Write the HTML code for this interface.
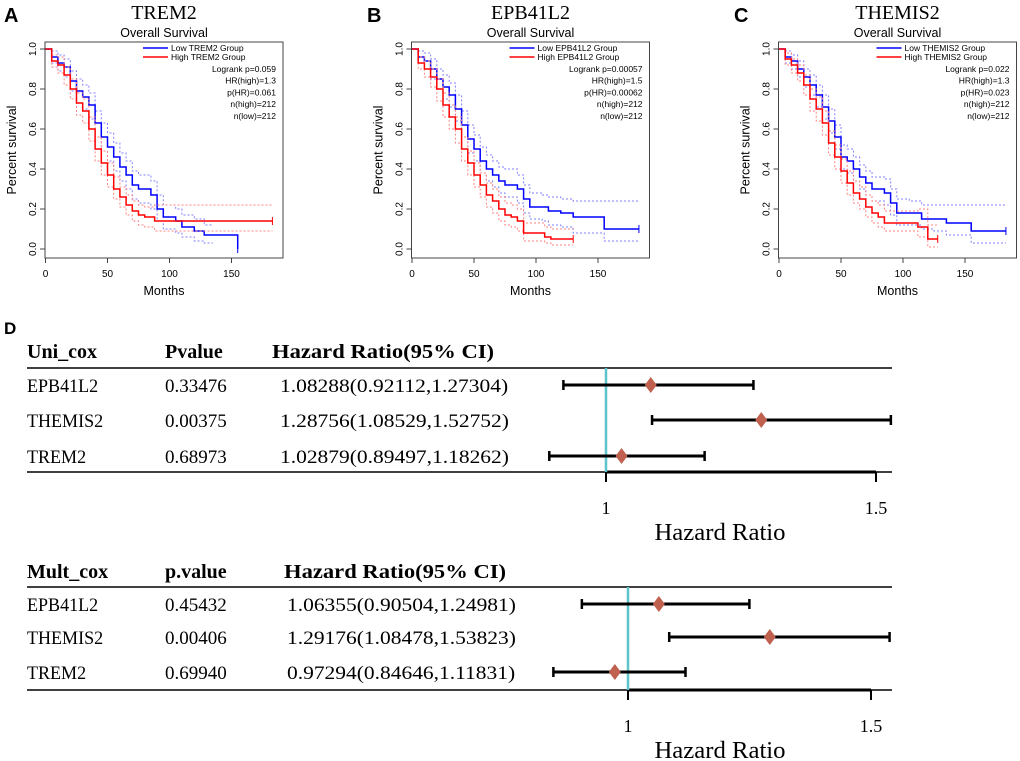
<!DOCTYPE html>
<html><head><meta charset="utf-8">
<style>
html,body{margin:0;padding:0;background:#fff;}
svg{display:block;}
.sans{font-family:"Liberation Sans",Arial,sans-serif;}
.serif{font-family:"Liberation Serif","Times New Roman",serif;}
</style></head>
<body>
<svg id="fig" width="1020" height="761" viewBox="0 0 1020 761" xmlns="http://www.w3.org/2000/svg"></svg>
<script>
// ---------- KM data ----------
const kmGenes = ["TREM2","EPB41L2","THEMIS2"];
const kmLetters = ["A","B","C"];
const kmStats = [
 ["Logrank p=0.059","HR(high)=1.3","p(HR)=0.061","n(high)=212","n(low)=212"],
 ["Logrank p=0.00057","HR(high)=1.5","p(HR)=0.00062","n(high)=212","n(low)=212"],
 ["Logrank p=0.022","HR(high)=1.3","p(HR)=0.023","n(high)=212","n(low)=212"]
];
const xTicks = [0,50,100,150];
const yTicks = [0,0.2,0.4,0.6,0.8,1.0];
const yTickLabels = ["0.0","0.2","0.4","0.6","0.8","1.0"];

const aLowT = [0,5,10,15,20,25,30,35,40,45,50,55,60,65,70,75,85,90,95,105,110,120,128,155];
const aLowS = [1,.96,.93,.91,.84,.79,.76,.72,.63,.56,.51,.46,.41,.37,.32,.30,.27,.20,.16,.14,.11,.09,.07,0];
const aLowLo = [1,.93,.89,.86,.79,.73,.70,.65,.56,.49,.44,.39,.34,.30,.25,.23,.20,.14,.10,.08,.06,.04,.03];
const aLowHi = [1,.99,.97,.95,.89,.85,.82,.78,.69,.63,.58,.53,.48,.44,.39,.37,.34,.27,.22,.20,.17,.15,.12];
const aHighT = [0,5,10,15,20,25,30,35,40,45,50,55,60,65,70,75,80,88];
const aHighS = [1,.94,.92,.87,.80,.73,.69,.60,.50,.43,.37,.30,.26,.22,.19,.17,.16,.14];
const aHighLo = [1,.91,.88,.82,.75,.67,.63,.54,.44,.37,.31,.25,.21,.17,.14,.12,.11,.09];
const aHighHi = [1,.97,.96,.91,.85,.78,.75,.66,.56,.49,.43,.36,.31,.27,.24,.22,.21,.22];

const bLowT = [0,5,10,15,20,25,30,35,40,45,50,55,60,65,70,75,85,90,95,105,110,120,130,155];
const bLowS = [1,.96,.94,.90,.85,.81,.77,.70,.62,.55,.50,.44,.40,.37,.34,.32,.30,.25,.21,.21,.19,.18,.16,.10];
const bLowLo = [1,.93,.90,.85,.80,.75,.71,.64,.56,.48,.44,.38,.34,.31,.28,.26,.23,.18,.15,.14,.12,.11,.08,.04];
const bLowHi = [1,.99,.98,.95,.90,.87,.83,.77,.69,.62,.57,.51,.47,.44,.41,.40,.37,.32,.28,.27,.26,.25,.24,.24];
const bHighT = [0,5,10,15,20,25,30,35,40,45,50,55,60,65,70,75,80,85,90,107,112];
const bHighS = [1,.93,.90,.86,.80,.72,.66,.60,.50,.43,.37,.32,.27,.24,.20,.17,.16,.14,.08,.06,.05];
const bHighLo = [1,.90,.86,.81,.74,.66,.60,.53,.44,.37,.31,.26,.21,.18,.14,.12,.11,.09,.04,.03,.02];
const bHighHi = [1,.96,.94,.90,.85,.78,.72,.66,.56,.49,.43,.38,.33,.30,.26,.23,.22,.20,.13,.11,.10];

const cLowT = [0,5,10,15,20,25,30,35,40,45,50,55,60,65,70,75,85,90,95,105,115,125,135,155];
const cLowS = [1,.96,.94,.90,.86,.82,.77,.71,.64,.56,.46,.44,.40,.36,.33,.30,.28,.23,.18,.18,.15,.15,.13,.09];
const cLowLo = [1,.93,.90,.86,.81,.77,.71,.65,.58,.50,.40,.38,.34,.30,.27,.24,.22,.17,.12,.12,.10,.09,.07,.03];
const cLowHi = [1,.99,.97,.94,.90,.87,.82,.77,.70,.62,.52,.50,.46,.42,.39,.36,.35,.30,.25,.24,.22,.22,.22,.22];
const cHighT = [0,5,10,15,20,25,30,35,40,45,50,55,60,65,70,75,80,85,112,120];
const cHighS = [1,.95,.92,.88,.82,.75,.70,.63,.53,.46,.39,.33,.28,.25,.21,.18,.16,.13,.11,.05];
const cHighLo = [1,.92,.88,.84,.77,.69,.64,.57,.47,.40,.33,.27,.23,.20,.16,.13,.11,.09,.06,.01];
const cHighHi = [1,.98,.95,.92,.87,.80,.76,.69,.59,.52,.45,.39,.34,.31,.27,.24,.22,.19,.20,.12];

const kmPanels = [
 {x0:45.5, low:{t:aLowT,s:aLowS,lo:aLowLo,hi:aLowHi,end:155,ciEnd:135}, high:{t:aHighT,s:aHighS,lo:aHighLo,hi:aHighHi,end:183,ciEnd:183}},
 {x0:412, low:{t:bLowT,s:bLowS,lo:bLowLo,hi:bLowHi,end:183,ciEnd:183}, high:{t:bHighT,s:bHighS,lo:bHighLo,hi:bHighHi,end:130,ciEnd:130}},
 {x0:779, low:{t:cLowT,s:cLowS,lo:cLowLo,hi:cLowHi,end:183,ciEnd:183}, high:{t:cHighT,s:cHighS,lo:cHighLo,hi:cHighHi,end:128,ciEnd:128}}
];

// ---------- Forest data ----------
const uniGenes = ["EPB41L2","THEMIS2","TREM2"];
const uniP = ["0.33476","0.00375","0.68973"];
const uniHR = [1.08288,1.28756,1.02879];
const uniLo = [0.92112,1.08529,0.89497];
const uniHi = [1.27304,1.52752,1.18262];
const multGenes = ["EPB41L2","THEMIS2","TREM2"];
const multP = ["0.45432","0.00406","0.69940"];
const multHR = [1.06355,1.29176,0.97294];
const multLo = [0.90504,1.08478,0.84646];
const multHi = [1.24981,1.53823,1.11831];
const forestTicks = [1,1.5];

const NS = "http://www.w3.org/2000/svg";
const svg = document.getElementById("fig");
function el(tag, attrs, parent, text){
  const e = document.createElementNS(NS, tag);
  for (const k in attrs) e.setAttribute(k, attrs[k]);
  if (text !== undefined) e.textContent = text;
  (parent||svg).appendChild(e);
  return e;
}

kmPanels.forEach((p, i) => {
  const g = el("g", {});
  
  
  const sx = m => p.x0 + m * (186/150);
  const sy = v => 249 - v * 200;
  const bx0 = p.x0 - 0.5, bx1 = p.x0 + 237.5;
  const box = el("rect", {x:bx0, y:42, width:bx1-bx0, height:216, fill:"none", stroke:"#444", "stroke-width":1}, g);
  
  
  const lt = el("text", {x: i==0?4:(p.x0-45), y:22, "font-size":20, "font-weight":"bold", class:"sans"}, g, kmLetters[i]);
  
  
  const cx = (bx0+bx1)/2;
  const gt = el("text", {x:cx, y:19, "font-size":20, "text-anchor":"middle", class:"serif"}, g, kmGenes[i]);
  
  
  const st = el("text", {x:cx, y:37, "font-size":12.5, "text-anchor":"middle", class:"sans"}, g, "Overall Survival");
  
  
  xTicks.forEach(v => {
    el("line", {x1:sx(v), x2:sx(v), y1:258, y2:263, stroke:"#444"}, g);
    const t = el("text", {x:sx(v), y:277, "font-size":10, "text-anchor":"middle", class:"sans"}, g, String(v));
    
    
  });
  const xl = el("text", {x:cx, y:295, "font-size":12.5, "text-anchor":"middle", class:"sans"}, g, "Months");
  
  
  yTicks.forEach((v,k) => {
    el("line", {x1:bx0-5, x2:bx0, y1:sy(v), y2:sy(v), stroke:"#444"}, g);
    const t = el("text", {x:0, y:0, "font-size":10, "text-anchor":"middle", class:"sans", transform:`translate(${bx0-9},${sy(v)}) rotate(-90)`}, g, yTickLabels[k]);
    
    
  });
  const yl = el("text", {x:0, y:0, "font-size":12.5, "text-anchor":"middle", class:"sans", transform:`translate(${bx0-29},150) rotate(-90)`}, g, "Percent survival");
  
  

  function stepPath(t, s, end){
    let d = `M${sx(t[0])},${sy(s[0])}`;
    for (let k=1;k<t.length;k++){ d += ` H${sx(t[k])} V${sy(s[k])}`; }
    d += ` H${sx(end)}`;
    return d;
  }
  [["low","#0000ff","#8080ff"],["high","#ff0000","#ff8080"]].forEach(([key,col,light]) => {
    const c = p[key];
    const ct = c.t.slice(0, c.lo.length);
    const lo = el("path", {d:stepPath(ct, c.lo, c.ciEnd), fill:"none", stroke:light, "stroke-width":1, "stroke-dasharray":"2,2"}, g);
    
    
    const hi = el("path", {d:stepPath(ct, c.hi, c.ciEnd), fill:"none", stroke:light, "stroke-width":1, "stroke-dasharray":"2,2"}, g);
    
    
    const ln = el("path", {d:stepPath(c.t, c.s, c.end), fill:"none", stroke:col, "stroke-width":1.5}, g);
    
    
    const lastS = c.s[c.s.length-1];
    el("line", {x1:sx(c.end), x2:sx(c.end), y1:sy(lastS)-4, y2:sy(lastS)+4, stroke:col, "stroke-width":1}, g);
  });
  const lx = bx1 - 112;
  [["Low","#0000ff",51],["High","#ff0000",60]].forEach(([nm,col,y]) => {
    el("line", {x1:lx-28, x2:lx-3, y1:y-3, y2:y-3, stroke:col, "stroke-width":1.5}, g);
    const t = el("text", {x:lx, y:y, "font-size":8.5, class:"sans"}, g, `${nm} ${kmGenes[i]} Group`);
    
    
  });
  kmStats[i].forEach((s,k) => {
    const t = el("text", {x:bx1-7, y:72+k*11.7, "font-size":8.5, "text-anchor":"end", class:"sans"}, g, s);
    
    
  });
});

// ---------- Forest plots ----------
const dl = el("text", {x:4, y:334, "font-size":17, "font-weight":"bold", class:"sans"}, svg, "D");



function stext(g, x, y, size, txt, sc, bold){
  const a = {x:0, y:0, "font-size":size, class:"serif", transform:`translate(${x},${y}) scale(${sc},1)`};
  if (bold) a["font-weight"] = "bold";
  return el("text", a, g, txt);
}

function forest(cfg){
  const g = el("g", {});
  
  
  const fx = v => cfg.one + (v-1)*cfg.scale;
  const hdr = [[27,cfg.h1,1.0],[165,cfg.h2,1.0],[cfg.hdrX,"Hazard Ratio(95% CI)",1.13]];
  hdr.forEach(([x,t,sc]) => {
    const e = stext(g, x, cfg.hy, 20, t, sc, true);
    
    
  });
  el("line", {x1:27, x2:892, y1:cfg.l1, y2:cfg.l1, stroke:"#000", "stroke-width":1.5}, g);
  el("line", {x1:27, x2:cfg.one, y1:cfg.l2, y2:cfg.l2, stroke:"#000", "stroke-width":1.5}, g);
  el("line", {x1:cfg.one, x2:fx(1.5), y1:cfg.l2, y2:cfg.l2, stroke:"#000", "stroke-width":3}, g);
  el("line", {x1:fx(1.5), x2:892, y1:cfg.l2, y2:cfg.l2, stroke:"#000", "stroke-width":1.5}, g);
  forestTicks.forEach(v => {
    el("line", {x1:fx(v), x2:fx(v), y1:cfg.l2, y2:cfg.l2+10, stroke:"#000", "stroke-width":2}, g);
    const t = el("text", {x:fx(v), y:cfg.l2+42, "font-size":18, "text-anchor":"middle", class:"serif"}, g, String(v));
    
    
  });
  const at = el("text", {x:0, y:0, "font-size":24, "text-anchor":"middle", class:"serif", transform:`translate(${cfg.titleX},${cfg.l2+68}) scale(1.03,1)`}, g, "Hazard Ratio");
  
  
  const ref = el("line", {x1:fx(1), x2:fx(1), y1:cfg.l1, y2:cfg.l2, stroke:"#5ec4cc", "stroke-width":2.5}, g);
  
  
  cfg.genes.forEach((gn,k) => {
    const y = cfg.rows[k];
    const a = stext(g, 27, y+7, 19, gn, 0.95);
    
    
    const b = stext(g, 165, y+7, 19, cfg.p[k], 1.0);
    
    
    const c = stext(g, cfg.hrX, y+7, 19, `${cfg.hr[k].toFixed(5)}(${cfg.lo[k].toFixed(5)},${cfg.hi[k].toFixed(5)})`, 1.13);
    
    
    const ci = el("line", {x1:fx(cfg.lo[k]), x2:fx(cfg.hi[k]), y1:y, y2:y, stroke:"#000", "stroke-width":3}, g);
    
    
    [cfg.lo[k], cfg.hi[k]].forEach(v => el("line", {x1:fx(v), x2:fx(v), y1:y-5, y2:y+5, stroke:"#000", "stroke-width":2.5}, g));
    const px = fx(cfg.hr[k]);
    const dm = el("polygon", {points:`${px},${y-8} ${px+6},${y} ${px},${y+8} ${px-6},${y}`, fill:"#c0604f"}, g);
    
    
  });
}
forest({name:"forest-uni-cox", h1:"Uni_cox", h2:"Pvalue", hdrX:272, hrX:280, hy:358, l1:368, l2:472, rows:[385,420,456],
  one:606, scale:540, titleX:720, genes:uniGenes, p:uniP, hr:uniHR, lo:uniLo, hi:uniHi});
forest({name:"forest-mult-cox", h1:"Mult_cox", h2:"p.value", hdrX:284, hrX:287, hy:578, l1:587, l2:690, rows:[604,637,672],
  one:628, scale:486, titleX:720, genes:multGenes, p:multP, hr:multHR, lo:multLo, hi:multHi});
</script>
</body></html>
